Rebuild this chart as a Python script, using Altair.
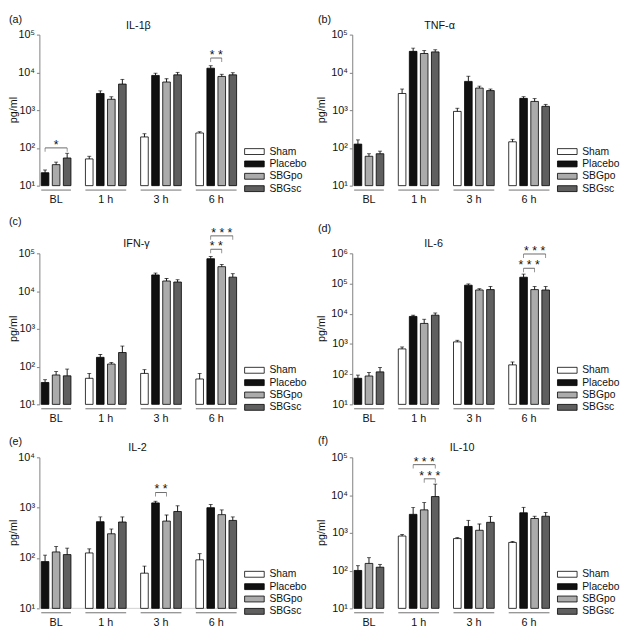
import math
import altair as alt
import pandas as pd

groups = ["Sham", "Placebo", "SBGpo", "SBGsc"]
times = ["BL", "1 h", "3 h", "6 h"]
bar_colors = ["#ffffff", "#111111", "#ababab", "#5f5f5f"]

cytokines = ["IL-1β", "TNF-α", "IFN-γ", "IL-6", "IL-2", "IL-10"]
panel_letters = ["(a)", "(b)", "(c)", "(d)", "(e)", "(f)"]
y_top = [1e5, 1e5, 1e5, 1e6, 1e4, 1e5]

# per time point (BL, 1 h, 3 h, 6 h), groups in order Sham, Placebo, SBGpo, SBGsc
il1b_mean = [None, 22, 36, 54, 51, 2750, 1940, 4900, 195, 8300, 5560, 8600, 248, 12900, 7800, 8600]
il1b_upper = [None, 26, 42, 72, 60, 3240, 2260, 6520, 237, 9500, 6800, 10000, 268, 15000, 8900, 9800]
tnfa_mean = [None, 126, 60, 70, 2760, 36000, 31600, 34900, 925, 5770, 3840, 3290, 145, 2050, 1700, 1260]
tnfa_upper = [None, 163, 70, 82, 3620, 44000, 37700, 39700, 1120, 7900, 4320, 3620, 169, 2270, 2020, 1420]
ifng_mean = [None, 38, 60, 57, 49, 176, 117, 236, 66, 26800, 18500, 17400, 47, 72000, 44300, 23400]
ifng_upper = [None, 45, 74, 86, 66, 210, 129, 350, 83, 30000, 21600, 20000, 66, 82400, 50700, 28900]
il6_mean = [None, 73, 87, 119, 685, 8150, 4780, 8950, 1170, 88100, 61200, 63000, 203, 162000, 63000, 61200]
il6_upper = [None, 93, 113, 167, 794, 8950, 6560, 10600, 1320, 97000, 67000, 79700, 253, 205000, 79700, 79700]
il2_mean = [None, 85, 132, 117, 126, 527, 303, 519, 50, 1245, 542, 840, 92, 1000, 727, 558]
il2_upper = [None, 114, 169, 157, 152, 655, 377, 655, 69, 1340, 715, 1090, 122, 1156, 903, 655]
il10_mean = [None, 101, 155, 123, 824, 3090, 4060, 9140, 705, 1475, 1170, 1900, 558, 3400, 2400, 2750]
il10_upper = [None, 135, 220, 146, 908, 4730, 6330, 19500, 747, 2140, 1720, 2700, 592, 4730, 2750, 3460]

means = [il1b_mean, tnfa_mean, ifng_mean, il6_mean, il2_mean, il10_mean]
uppers = [il1b_upper, tnfa_upper, ifng_upper, il6_upper, il2_upper, il10_upper]

# significance brackets
br_panel = ["IL-1β", "IL-1β", "IFN-γ", "IFN-γ", "IL-6", "IL-6", "IL-2", "IL-10", "IL-10"]
br_time = ["BL", "6 h", "6 h", "6 h", "6 h", "6 h", "3 h", "1 h", "1 h"]
br_from = ["Placebo", "Placebo", "Placebo", "Placebo", "Placebo", "Placebo", "Placebo", "Placebo", "SBGpo"]
br_to = ["SBGsc", "SBGpo", "SBGpo", "SBGsc", "SBGpo", "SBGsc", "SBGpo", "SBGsc", "SBGsc"]
br_level = [100, 24000, 128000, 290000, 320000, 950000, 2000, 64000, 27000]
br_stars = ["*", "* *", "* *", "* * *", "* * *", "* * *", "* *", "* * *", "* * *"]

# ---------------- layout (styling) ----------------
W, H = 203, 154
PI, PO = 0.31, 0.17
letter_x = [-31, -35, -31, -35, -31, -35]
letter_y = [-15, -15, -32, -25, -16, -17]
title_x = [101, 89, 99, 83, 100, 112]
ylab_x = [-26, -31, -26, -31, -26, -31]

# ---------------- data tables ----------------
slots = []
members = {}
for ti, t in enumerate(times):
    if ti > 0:
        slots.append(f"gap{ti}")
    members[t] = [g for g in groups if not (t == "BL" and g == "Sham")]
    for g in members[t]:
        slots.append(f"{t}|{g}")

step = W / (len(slots) - PI + 2 * PO)
gap_half = step * PI / 2

rows = []
for pi_, name in enumerate(cytokines):
    k = 0
    for t in times:
        for g in groups:
            m = means[pi_][k]
            u = uppers[pi_][k]
            k += 1
            if m is None:
                continue
            rows.append(dict(panel=name, time=t, group=g, slot=f"{t}|{g}", mean=m, upper=u))
bar_df = pd.DataFrame(rows)

grp_rows = []
for t in times:
    mem = members[t]
    if len(mem) % 2 == 1:
        mid, kind = mem[len(mem) // 2], "center"
    else:
        mid, kind = mem[len(mem) // 2 - 1], "between"
    grp_rows.append(dict(time=t, first=f"{t}|{mem[0]}", last=f"{t}|{mem[-1]}", mid=f"{t}|{mid}", kind=kind))
grp_df = pd.DataFrame(grp_rows)

br_rows, br_end_rows = [], []
for p, t, a, b, lv, s in zip(br_panel, br_time, br_from, br_to, br_level, br_stars):
    ia, ib = groups.index(a), groups.index(b)
    kind = "center" if (ib - ia) % 2 == 0 else "between"
    mid = groups[(ia + ib) // 2]
    br_rows.append(dict(panel=p, a=f"{t}|{a}", b=f"{t}|{b}", mid=f"{t}|{mid}", kind=kind, level=lv, stars=s))
    br_end_rows.append(dict(panel=p, slot=f"{t}|{a}", level=lv))
    br_end_rows.append(dict(panel=p, slot=f"{t}|{b}", level=lv))
br_df = pd.DataFrame(br_rows)
br_end_df = pd.DataFrame(br_end_rows)

label_expr = "'10' + ['⁰','¹','²','³','⁴','⁵','⁶'][round(log(datum.value)/LN10)]"


def make_panel(i):
    name = cytokines[i]
    top = y_top[i]
    n_exp = int(round(math.log10(top)))
    tick_vals = [10 ** e for e in range(1, n_exp + 1)]
    xs = alt.Scale(domain=slots, paddingInner=PI, paddingOuter=PO)
    ys = alt.Scale(type="log", domain=[10, top], nice=False)
    yaxis = alt.Axis(values=tick_vals, labelExpr=label_expr, title=None, grid=False,
                     domainColor="#808080", tickColor="#808080", tickSize=3,
                     labelFontSize=11, labelPadding=2, labelColor="#111111")

    def Y(f):
        return alt.Y(f, scale=ys, axis=yaxis)

    def X(f, bp=None):
        if bp is None:
            return alt.X(f, scale=xs, axis=None)
        return alt.X(f, scale=xs, axis=None, bandPosition=bp)

    d = bar_df[bar_df.panel == name]
    legend = alt.Legend(orient="none", legendX=W + 11, legendY=H - 40, title=None,
                        symbolType="M-3.333,-1H3.333V1H-3.333Z", symbolSize=36,
                        symbolStrokeColor="#000000", symbolStrokeWidth=0.8,
                        labelFontSize=10.5, labelOffset=10, rowPadding=1.6, padding=0,
                        labelColor="#111111")
    bars = alt.Chart(d).mark_bar(stroke="#000000", strokeWidth=0.8).encode(
        x=X("slot:N"), y=Y("mean:Q"), y2=alt.datum(10),
        fill=alt.Fill("group:N", scale=alt.Scale(domain=groups, range=bar_colors), legend=legend),
    )
    err = alt.Chart(d).mark_rule(color="#000000", strokeWidth=0.9).encode(
        x=X("slot:N"), y=Y("mean:Q"), y2=alt.Y2("upper:Q"))
    caps = alt.Chart(d).mark_tick(orient="horizontal", size=4, thickness=0.9, color="#000000").encode(
        x=X("slot:N"), y=Y("upper:Q"))

    under = alt.Chart(grp_df).mark_rule(color="#707070", strokeWidth=1).encode(
        x=X("first:N", 0), x2=alt.X2("last:N", bandPosition=1), y=alt.value(H + 4.5))
    lab_c = alt.Chart(grp_df[grp_df.kind == "center"]).mark_text(
        fontSize=11, baseline="middle", color="#111111").encode(
        x=X("mid:N", 0.5), y=alt.value(H + 15), text="time:N")
    lab_b = alt.Chart(grp_df[grp_df.kind == "between"]).mark_text(
        fontSize=11, baseline="middle", dx=gap_half, color="#111111").encode(
        x=X("mid:N", 1), y=alt.value(H + 15), text="time:N")

    info = pd.DataFrame(dict(title=[name], letter=[panel_letters[i]], ylab=["pg/ml"]))
    ttl = alt.Chart(info).mark_text(fontSize=11, baseline="middle", color="#111111").encode(
        x=alt.value(title_x[i]), y=alt.value(-9), text="title:N")
    let = alt.Chart(info).mark_text(fontSize=11, baseline="middle", align="left", color="#111111").encode(
        x=alt.value(letter_x[i]), y=alt.value(letter_y[i]), text="letter:N")
    ylab = alt.Chart(info).mark_text(fontSize=11, baseline="middle", angle=270, color="#111111").encode(
        x=alt.value(ylab_x[i]), y=alt.value(H / 2), text="ylab:N")

    layers = [bars, err, caps, under, lab_c, lab_b, ttl, let, ylab]

    if i == 4:
        base_line = alt.Chart(info).mark_rule(color="#d0d0d0", strokeWidth=1).encode(
            x=alt.value(0), x2=alt.value(W), y=alt.value(H))
        layers.insert(0, base_line)

    bd = br_df[br_df.panel == name]
    if len(bd):
        be = br_end_df[br_end_df.panel == name]
        line = alt.Chart(bd).mark_rule(color="#444444", strokeWidth=0.8).encode(
            x=X("a:N", 0.5), x2=alt.X2("b:N", bandPosition=0.5), y=Y("level:Q"))
        ends = alt.Chart(be).mark_tick(orient="vertical", size=4, thickness=0.8, yOffset=2,
                                       color="#444444").encode(x=X("slot:N"), y=Y("level:Q"))
        layers += [line, ends]
        for kind, bp, dx in [("center", 0.5, 0), ("between", 1, gap_half)]:
            sd = bd[bd.kind == kind]
            if len(sd):
                layers.append(alt.Chart(sd).mark_text(fontSize=12.5, baseline="alphabetic", dy=1, dx=dx,
                                                      color="#111111").encode(
                    x=X("mid:N", bp), y=Y("level:Q"), text="stars:N"))

    return alt.layer(*layers).properties(width=W, height=H)


panels = [make_panel(i) for i in range(6)]
SPX = 116


def row(a, b):
    return alt.hconcat(a, b, spacing=SPX, bounds="flush").resolve_scale(
        fill="independent").resolve_legend(fill="independent")


chart = alt.vconcat(row(panels[0], panels[1]), row(panels[2], panels[3]), row(panels[4], panels[5]),
                    spacing=11).resolve_scale(fill="independent").resolve_legend(
    fill="independent").properties(padding=0).configure(
    font="Liberation Sans").configure_view(stroke=None)

chart.save("out.html", embed_options={"renderer": "svg", "actions": False})
